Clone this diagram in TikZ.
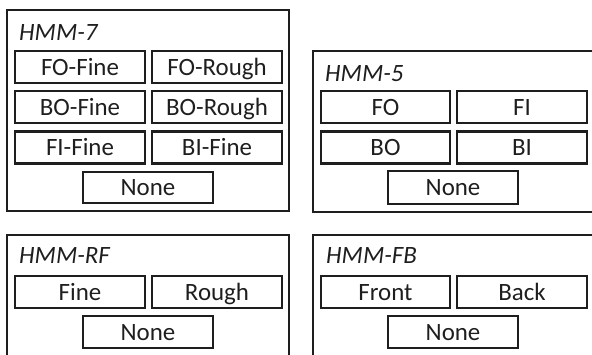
\documentclass[tikz,border=0pt]{standalone}
\usepackage{fontspec}
\setmainfont{Carlito}
\definecolor{ink}{HTML}{1E1E1E}
\begin{document}
\begin{tikzpicture}[x=1bp,y=-1bp,
  panel/.style={draw=ink,line width=1.8bp},
  state/.style={draw=ink,line width=2.4bp,rectangle,inner sep=0pt,
    minimum height=32bp,text height=16bp,text depth=0pt,text=ink,
    font=\fontsize{25}{30}\selectfont},
  title/.style={anchor=base west,inner sep=0pt,text=ink,
    font=\fontsize{25}{30}\selectfont\itshape}]
\useasboundingbox (0,0) rectangle (592,354);
\clip (0,0) rectangle (592,354);

% HMM-7 panel
\draw[panel] (7,10) rectangle (289,211);
\node[title] (t7) at (19,40) {HMM-7};
\node[state,minimum width=130bp] (s7a) at (80,67) {FO-Fine};
\node[state,minimum width=130bp] (s7b) at (217,67) {FO-Rough};
\node[state,minimum width=130bp] (s7c) at (80,107) {BO-Fine};
\node[state,minimum width=130bp] (s7d) at (217,107) {BO-Rough};
\node[state,minimum width=130bp] (s7e) at (80,147.5) {FI-Fine};
\node[state,minimum width=130bp] (s7f) at (217,147.5) {BI-Fine};
\node[state,minimum width=130bp,minimum height=31bp] (s7g) at (148,187.5) {None};

% HMM-5 panel
\draw[panel] (313,51) rectangle (620,212);
\node[title] (t5) at (325,81) {HMM-5};
\node[state,minimum width=129bp] (s5a) at (385.5,107) {FO};
\node[state,minimum width=130bp] (s5b) at (522,107) {FI};
\node[state,minimum width=129bp] (s5c) at (385.5,147.5) {BO};
\node[state,minimum width=130bp] (s5d) at (522,147.5) {BI};
\node[state,minimum width=130bp,minimum height=33bp] (s5e) at (453,187.5) {None};

% HMM-RF panel
\draw[panel] (7,380) -- (7,235) -- (289,235) -- (289,380);
\node[title] (trf) at (19,263) {HMM-RF};
\node[state,minimum width=130bp] (srfa) at (80,292) {Fine};
\node[state,minimum width=130bp] (srfb) at (217,292) {Rough};
\node[state,minimum width=130bp] (srfc) at (148,332) {None};

% HMM-FB panel
\draw[panel] (313,380) -- (313,235) -- (620,235);
\node[title] (tfb) at (326,263) {HMM-FB};
\node[state,minimum width=129bp] (sfba) at (385.5,292) {Front};
\node[state,minimum width=130bp] (sfbb) at (522,292) {Back};
\node[state,minimum width=130bp] (sfbc) at (453,332) {None};
\end{tikzpicture}
\end{document}
